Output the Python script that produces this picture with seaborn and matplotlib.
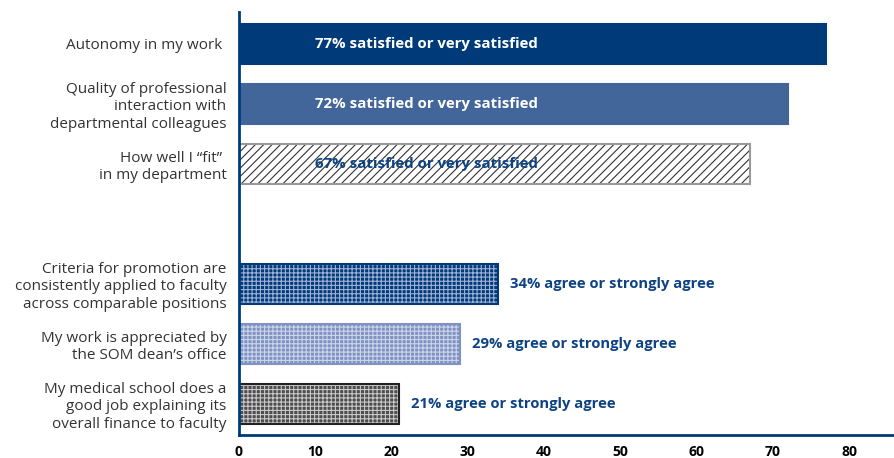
"""Faculty satisfaction bar chart."""

import matplotlib

matplotlib.use("Agg")
import matplotlib.pyplot as plt
import pandas as pd
import seaborn as sns
from matplotlib.patches import Rectangle

items = [
    "Autonomy in my work ",
    "Quality of professional\ninteraction with\ndepartmental colleagues",
    "How well I \u201cfit\u201d \nin my department",
    "Criteria for promotion are\nconsistently applied to faculty\nacross comparable positions",
    "My work is appreciated by\nthe SOM dean\u2019s office",
    "My medical school does a\ngood job explaining its\noverall finance to faculty",
]
values = [77, 72, 67, 34, 29, 21]
labels = [
    "77% satisfied or very satisfied",
    "72% satisfied or very satisfied",
    "67% satisfied or very satisfied",
    "34% agree or strongly agree",
    "29% agree or strongly agree",
    "21% agree or strongly agree",
]
xticks = [0, 10, 20, 30, 40, 50, 60, 70, 80]

NAVY = "#003a78"
order = items[:3] + [" "] + items[3:]

# face, hatch, hatch colour, outline colour
styles = [
    (NAVY, None, None, NAVY),
    ("#42659a", None, None, "#42659a"),
    ("white", "////", "#333333", "#999999"),
    (NAVY, "++++", "#9fb2d6", NAVY),
    ("#7f92c2", "++++", "#ccd4ea", "#7f92c2"),
    ("#4d4d4d", "++++", "#c8c8c8", "#222222"),
]

df = pd.DataFrame({"item": items, "value": values})

sns.set_style("white")
plt.rcParams["font.family"] = ["Open Sans", "DejaVu Sans"]
plt.rcParams["hatch.linewidth"] = 0.8

fig = plt.figure(figsize=(8.95, 4.58), dpi=100)
ax = fig.add_axes([0.267, 0.050, 0.733, 0.924])

sns.barplot(data=df, x="value", y="item", order=order, orient="h",
            width=0.667, color=NAVY, ax=ax)

bars = [p for p in ax.patches if p.get_width() > 0]
for bar, (face, hatch, hcol, edge) in zip(bars, styles):
    bar.set_facecolor(face)
    bar.set_linewidth(0)
    if hatch:
        bar.set_hatch(hatch)
        bar.set_edgecolor(hcol)
    ax.add_patch(Rectangle(bar.get_xy(), bar.get_width(), bar.get_height(),
                           fill=False, edgecolor=edge, linewidth=1.5, zorder=3))

for i, (bar, v, lab) in enumerate(zip(bars, values, labels)):
    yc = bar.get_y() + bar.get_height() / 2
    if i < 2:
        ax.text(10, yc, lab, color="white", fontsize=10.8, fontweight="bold",
                va="center", ha="left", zorder=4)
    elif i == 2:
        ax.text(10, yc, lab, color="#0d4283", fontsize=10.8, fontweight="bold",
                va="center", ha="left", zorder=4)
    else:
        ax.text(v + 1.5, yc, lab, color="#0d4283", fontsize=10.6,
                fontweight="bold", va="center", ha="left", zorder=4)

ax.set_xlim(0, 86)
ax.set_ylim(6.52, -0.53)
ax.set_xticks(xticks)
ax.set_xticklabels([str(t) for t in xticks], fontsize=10, fontweight="bold",
                   color="black")
ax.set_yticks(range(len(order)))
ax.set_yticklabels(order, fontsize=11, color="#333333", linespacing=1.2)
ax.tick_params(axis="both", length=0)
ax.tick_params(axis="x", pad=7)
ax.tick_params(axis="y", pad=9)
ax.set_xlabel("")
ax.set_ylabel("")

sns.despine(ax=ax, top=True, right=True)
for side in ("left", "bottom"):
    ax.spines[side].set_color(NAVY)
    ax.spines[side].set_linewidth(2)
    ax.spines[side].set_zorder(5)

fig.savefig("out.png", dpi=100)
plt.close(fig)
